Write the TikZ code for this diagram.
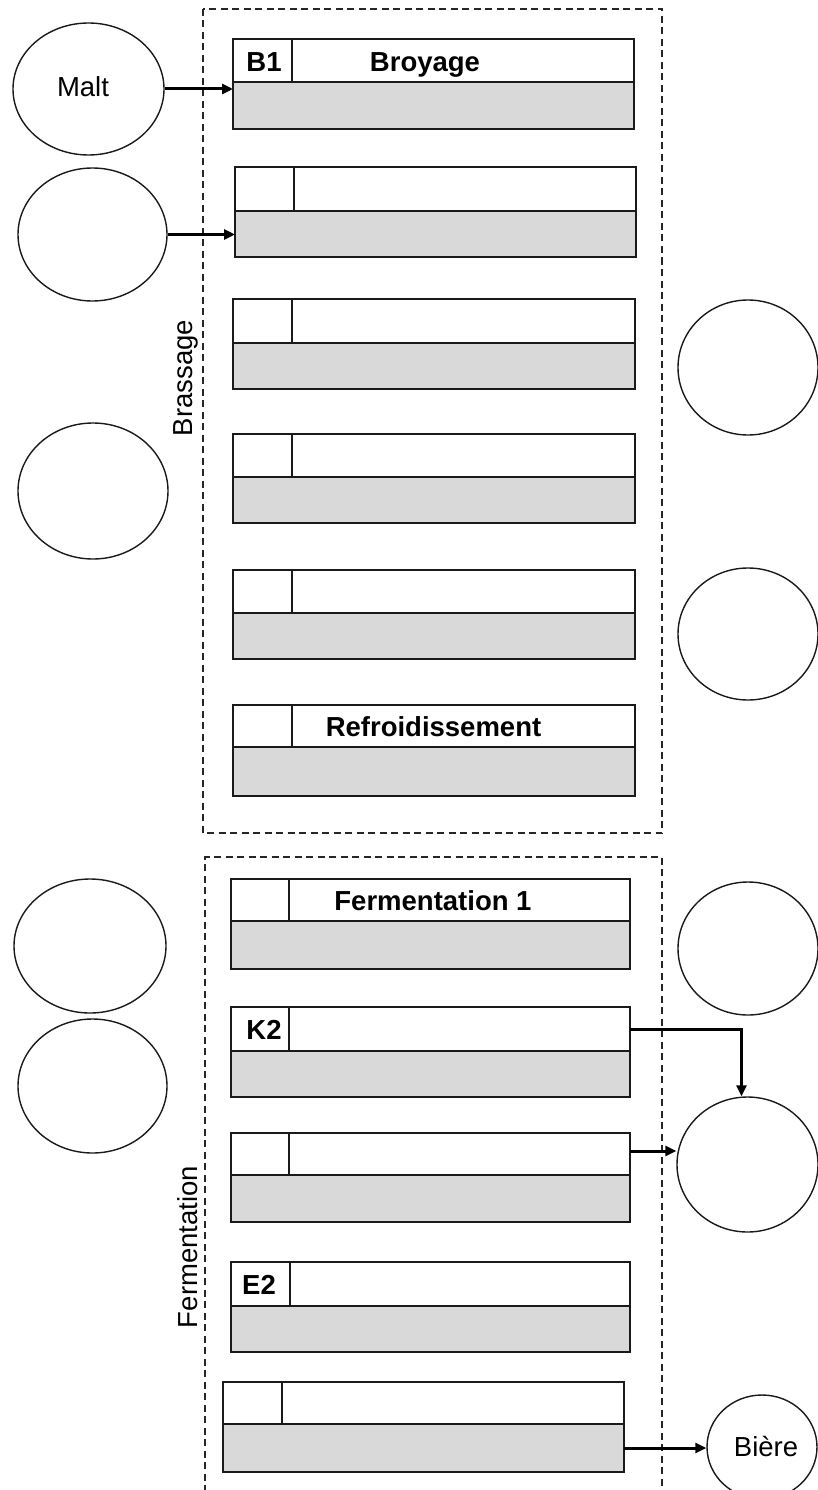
\documentclass[tikz,border=0pt]{standalone}
\usepackage{fontspec}
\setmainfont{Liberation Sans}
\usetikzlibrary{arrows.meta,shapes.geometric,fit}
\definecolor{bodygray}{HTML}{D9D9D9}
\definecolor{edge}{HTML}{1A1A1A}
\newcommand\regfont{\fontsize{27.5}{33}\selectfont}
\newcommand\boldfont{\fontsize{27.5}{33}\selectfont\bfseries}
% one process step: header row (white) over a grey body, with a small id cell
% #1 name, #2 left, #3 top, #4 header/body split, #5 right, #6 bottom, #7 id-cell divider
\newcommand\brewstage[7]{%
  \node[hdrbox,fit={(#2,#3)(#5,#4)}] (#1h) {};
  \node[bodybox,fit={(#2,#4)(#5,#6)}] (#1b) {};
  \draw[boxline] (#7,#3) -- (#7,#4);
}
\begin{document}
\begin{tikzpicture}[x=1pt,y=-1pt,
  hdrbox/.style={draw=edge,line width=1.8pt,fill=white,inner sep=0pt,outer sep=0pt},
  bodybox/.style={draw=edge,line width=1.8pt,fill=bodygray,inner sep=0pt,outer sep=0pt},
  boxline/.style={draw=edge,line width=1.8pt},
  vessel/.style={ellipse,draw=edge,line width=1.4pt,inner sep=0pt,fill=white},
  zone/.style={draw=black!85,line width=1.3pt,dash pattern=on 7pt off 4.5pt},
  flow/.style={draw=black,line width=3pt,-{Triangle[length=11pt,width=10pt]}},
  idtxt/.style={anchor=base,font=\boldfont,inner sep=0pt},
  nametxt/.style={anchor=base,font=\boldfont,inner sep=0pt},
  zonetxt/.style={anchor=base,rotate=90,font=\regfont,inner sep=0pt}]
\useasboundingbox (0,0) rectangle (818,1490);
\fill[white] (0,0) rectangle (818,1490);

% process zones
\draw[zone] (203,9) rectangle (662,833);
\draw[zone] (205,1492) -- (205,857) -- (662,857) -- (662,1492);
\node[zonetxt] (zbrass) at (192,378) {Brassage};
\node[zonetxt] (zferm) at (197,1247) {Fermentation};

% brewing steps
\brewstage{s1}{233}{39}{82}{634}{129}{292}
\brewstage{s2}{235}{167}{211}{636}{257}{294}
\brewstage{s3}{233}{299}{343}{635}{389}{292}
\brewstage{s4}{233}{434}{477}{635}{523}{292}
\brewstage{s5}{233}{570}{613}{635}{659}{292}
\brewstage{s6}{233}{705}{747}{635}{796}{292}
% fermentation steps
\brewstage{s7}{231}{879}{921}{630}{969}{289}
\brewstage{s8}{231}{1007}{1051}{630}{1097}{289}
\brewstage{s9}{231}{1133}{1175}{630}{1222}{289}
\brewstage{s10}{231}{1262}{1306}{630}{1352}{290}
\brewstage{s11}{223}{1382}{1424}{624}{1472}{282}

% step labels
\node[idtxt] (id1) at (264,71.5) {B1};
\node[nametxt] (nm1) at (425,71.5) {Broyage};
\node[nametxt] (nm6) at (433.5,736) {Refroidissement};
\node[nametxt] (nm7) at (433,910) {Fermentation 1};
\node[idtxt] (id8) at (264,1039.5) {K2};
\node[idtxt] (id10) at (259,1294) {E2};

% inputs and outputs
\node[vessel,minimum width=151pt,minimum height=132pt] (malt) at (88.5,89) {};
\node[anchor=base,font=\regfont,inner sep=0pt] (malttxt) at (83,97) {Malt};
\node[vessel,minimum width=149pt,minimum height=133pt] (in2) at (92.5,234.5) {};
\node[vessel,minimum width=150pt,minimum height=136pt] (in3) at (93,491) {};
\node[vessel,minimum width=140pt,minimum height=135pt] (out1) at (748,367.5) {};
\node[vessel,minimum width=140pt,minimum height=132pt] (out2) at (748,634) {};
\node[vessel,minimum width=152pt,minimum height=134pt] (in4) at (90,946) {};
\node[vessel,minimum width=149pt,minimum height=134pt] (in5) at (92.5,1086) {};
\node[vessel,minimum width=140pt,minimum height=133pt] (out3) at (748,948.5) {};
\node[vessel,minimum width=141pt,minimum height=135pt] (out4) at (747.5,1164.5) {};
\node[vessel,minimum width=110pt,minimum height=104pt] (biere) at (762,1447) {};
\node[anchor=base,font=\regfont,inner sep=0pt] (bieretxt) at (766,1456) {Bière};

% flows
\draw[flow] (malt.east) -- (malt.east -| s1b.west);
\draw[flow] (in2.east) -- (in2.east -| s2b.west);
\draw[flow] (s8h.east) -| ([xshift=-6pt]out4.north);
\draw[flow] ([yshift=3pt]s9h.east) -- ([yshift=3pt]s9h.east -| out4.west);
\draw[flow] (s11b.east) -- (s11b.east -| biere.west);
\end{tikzpicture}
\end{document}
